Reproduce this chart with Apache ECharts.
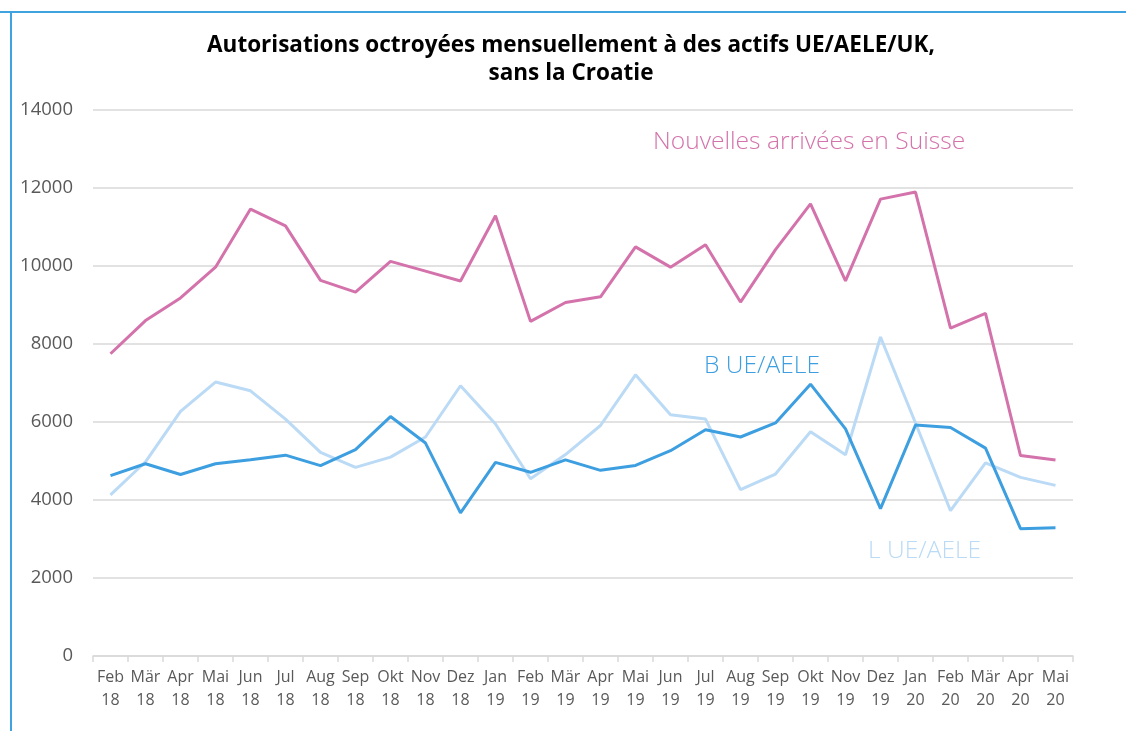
<!DOCTYPE html>
<html>
<head>
<meta charset="utf-8">
<script src="https://cdn.jsdelivr.net/npm/echarts@6/dist/echarts.min.js"></script>
<style>
html,body{margin:0;padding:0;background:#fff;}
#c{width:1126px;height:731px;}
</style>
</head>
<body>
<div id="c"></div>
<script>
const categories = ["Feb\n18","Mär\n18","Apr\n18","Mai\n18","Jun\n18","Jul\n18","Aug\n18","Sep\n18","Okt\n18","Nov\n18","Dez\n18","Jan\n19","Feb\n19","Mär\n19","Apr\n19","Mai\n19","Jun\n19","Jul\n19","Aug\n19","Sep\n19","Okt\n19","Nov\n19","Dez\n19","Jan\n20","Feb\n20","Mär\n20","Apr\n20","Mai\n20"];
const nouvellesArrivees = [7750,8600,9180,9970,11460,11030,9630,9330,10120,9870,9615,11290,8580,9065,9210,10490,9970,10545,9075,10420,11595,9620,11715,11895,8410,8785,5140,5025];
const bUE = [4625,4930,4655,4930,5030,5150,4880,5290,6140,5460,3670,4965,4710,5030,4760,4885,5265,5800,5615,5975,6970,5825,3780,5920,5860,5330,3265,3290];
const lUE = [4130,4980,6270,7025,6800,6075,5220,4835,5100,5615,6930,5950,4545,5165,5910,7210,6185,6075,4265,4665,5750,5160,8180,5975,3725,4950,4580,4375];
const yTicks = {min:0, max:14000, interval:2000};

const cPink = '#d473ab';
const cBlue = '#3d9fe0';
const cLight = '#badaf5';
const fontFam = '"Open Sans","Noto Sans",sans-serif';

const chart = echarts.init(document.getElementById('c'));
chart.setOption({
  animation:false,
  backgroundColor:'#fff',
  title:{
    text:'Autorisations octroyées mensuellement à des actifs UE/AELE/UK,\nsans la Croatie',
    left:566, top:27, textAlign:'center',
    textStyle:{fontFamily:fontFam, fontSize:22.5, fontWeight:'bold', color:'#000', lineHeight:28}
  },
  grid:{left:93, right:53, top:110, bottom:75, containLabel:false},
  xAxis:{
    type:'category', data:categories, boundaryGap:true,
    axisLine:{lineStyle:{color:'#d9d9d9', width:1.5}},
    axisTick:{show:true, length:6, lineStyle:{color:'#d9d9d9', width:1.5}},
    axisLabel:{interval:0, color:'#595959', fontFamily:fontFam, fontSize:16, lineHeight:23, margin:10}
  },
  yAxis:{
    type:'value', min:yTicks.min, max:yTicks.max, interval:yTicks.interval,
    axisLine:{show:false}, axisTick:{show:false},
    axisLabel:{color:'#595959', fontFamily:fontFam, fontSize:18.5, margin:20, formatter:function(v){return String(v);}},
    splitLine:{lineStyle:{color:'#d9d9d9', width:1.5}}
  },
  series:[
    {name:'Nouvelles arrivées en Suisse', type:'line', data:nouvellesArrivees, symbol:'none', lineStyle:{color:cPink, width:3}, itemStyle:{color:cPink}, z:3},
    {name:'L UE/AELE', type:'line', data:lUE, symbol:'none', lineStyle:{color:cLight, width:3}, itemStyle:{color:cLight}, z:1},
    {name:'B UE/AELE', type:'line', data:bUE, symbol:'none', lineStyle:{color:cBlue, width:3}, itemStyle:{color:cBlue}, z:2}
  ],
  graphic:[
    {type:'rect', shape:{x:0, y:11, width:1126, height:2}, style:{fill:'#3fa3e0'}, silent:true},
    {type:'rect', shape:{x:10, y:11, width:2, height:720}, style:{fill:'#3fa3e0'}, silent:true},
    {type:'text', left:653, top:129, style:{text:'Nouvelles arrivées en Suisse', fill:cPink, font:'300 24.6px "Open Sans","Noto Sans",sans-serif'}},
    {type:'text', left:704, top:353, style:{text:'B UE/AELE', fill:cBlue, font:'300 24.6px "Open Sans","Noto Sans",sans-serif'}},
    {type:'text', left:868, top:538, style:{text:'L UE/AELE', fill:cLight, font:'300 24.6px "Open Sans","Noto Sans",sans-serif'}}
  ]
});
</script>
</body>
</html>
